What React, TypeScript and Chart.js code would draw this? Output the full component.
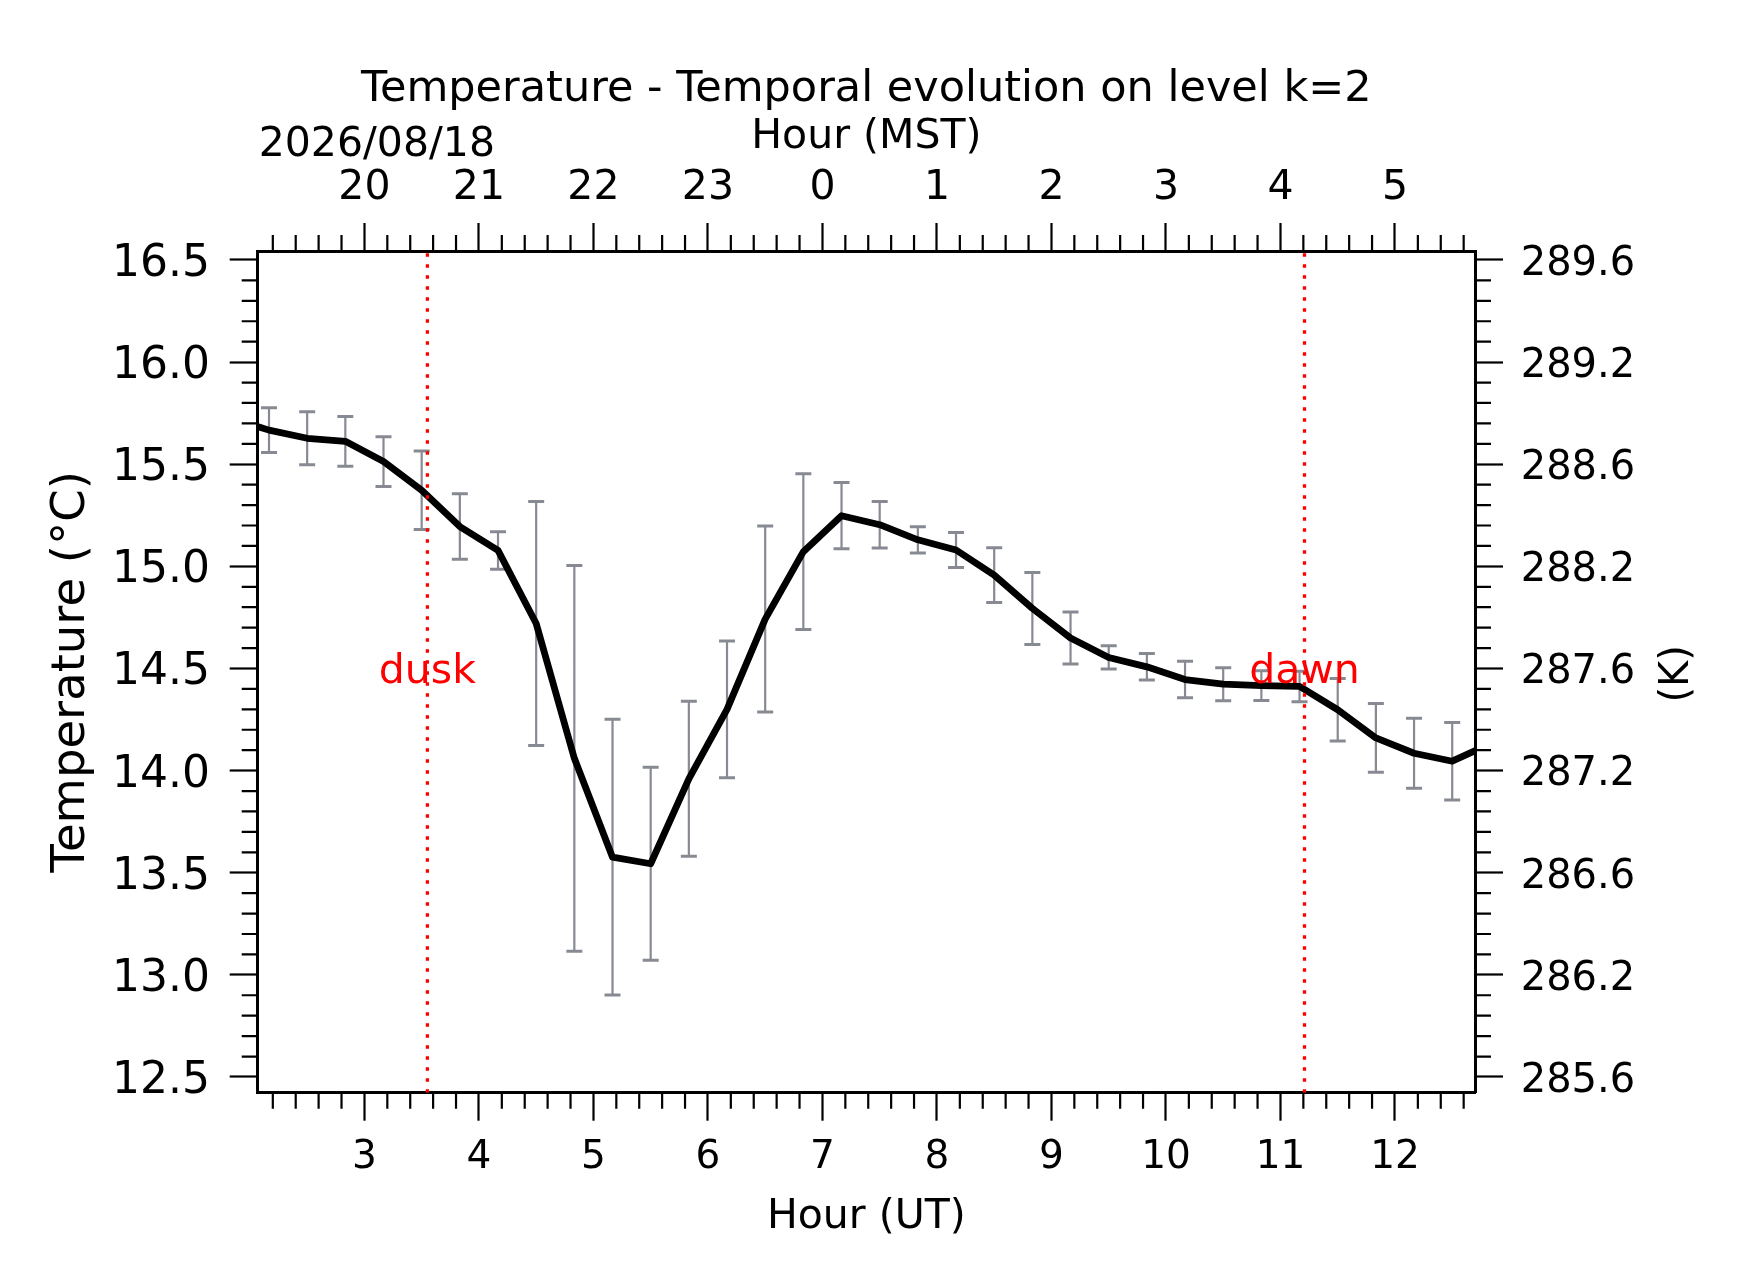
import React, { useEffect, useRef } from 'react';
import { Chart, registerables } from 'chart.js';

Chart.register(...registerables);

// ---------- data ----------
const TIMES_UT = [
  1.8333, 2.1667, 2.5, 2.8333, 3.1667, 3.5, 3.8333, 4.1667, 4.5, 4.8333,
  5.1667, 5.5, 5.8333, 6.1667, 6.5, 6.8333, 7.1667, 7.5, 7.8333, 8.1667,
  8.5, 8.8333, 9.1667, 9.5, 9.8333, 10.1667, 10.5, 10.8333, 11.1667, 11.5,
  11.8333, 12.1667, 12.5, 12.8333,
];
const TEMP_C = [
  15.725, 15.667, 15.627, 15.612, 15.513, 15.373, 15.195, 15.078, 14.72, 14.06,
  13.576, 13.544, 13.96, 14.3, 14.742, 15.072, 15.248, 15.204, 15.13, 15.08,
  14.957, 14.794, 14.649, 14.554, 14.508, 14.446, 14.423, 14.416, 14.412, 14.298,
  14.16, 14.085, 14.046, 14.132,
];
const TEMP_ERR = [
  0.1, 0.11, 0.13, 0.122, 0.122, 0.192, 0.16, 0.092, 0.597, 0.944,
  0.675, 0.472, 0.379, 0.335, 0.455, 0.381, 0.162, 0.114, 0.064, 0.086,
  0.134, 0.176, 0.127, 0.057, 0.065, 0.089, 0.081, 0.073, 0.075, 0.153,
  0.168, 0.171, 0.19, 0.16,
];
const DUSK_UT = 3.55;
const DAWN_UT = 11.21;
const EVENT_LABEL_Y = 14.5;

const UT_TICKS = [3, 4, 5, 6, 7, 8, 9, 10, 11, 12];
const UT_LABELS = ['3', '4', '5', '6', '7', '8', '9', '10', '11', '12'];
const MST_LABELS = ['20', '21', '22', '23', '0', '1', '2', '3', '4', '5'];
const C_TICKS = [12.5, 13.0, 13.5, 14.0, 14.5, 15.0, 15.5, 16.0, 16.5];
const C_LABELS = ['12.5', '13.0', '13.5', '14.0', '14.5', '15.0', '15.5', '16.0', '16.5'];
const K_LABELS = ['285.6', '286.2', '286.6', '287.2', '287.6', '288.2', '288.6', '289.2', '289.6'];

const TITLE = 'Temperature - Temporal evolution on level k=2';
const DATE_LABEL = '2026/08/18';

const XMIN = 2.068;
const XMAX = 12.699;
const YMIN = 12.423;
const YMAX = 16.544;

// ---------- layout ----------
const W = 1742;
const H = 1282;
const PLOT_LEFT = 257.7;
const PLOT_RIGHT = 1475;
const PLOT_TOP = 251;
const PLOT_BOTTOM = 1092.7;
const FONT = "'DejaVu Sans', sans-serif";
const GRAY = '#878a92';

const decorPlugin = {
  id: 'decor',
  afterDatasetsDraw(chart: any) {
    const { ctx } = chart;
    const xs = chart.scales.x;
    const ys = chart.scales.y;
    ctx.save();
    ctx.fillStyle = '#ff0000';
    ctx.font = `41px ${FONT}`;
    ctx.textAlign = 'center';
    ctx.textBaseline = 'alphabetic';
    const yy = ys.getPixelForValue(EVENT_LABEL_Y) + 15;
    ctx.fillText('dusk', xs.getPixelForValue(DUSK_UT), yy);
    ctx.fillText('dawn', xs.getPixelForValue(DAWN_UT), yy);
    ctx.restore();
  },
  afterDraw(chart: any) {
    const { ctx, chartArea: a } = chart;
    const xs = chart.scales.x;
    const ys = chart.scales.y;
    ctx.save();
    // minor ticks
    ctx.strokeStyle = '#000';
    ctx.lineWidth = 2.2;
    const ML = 16;
    ctx.beginPath();
    for (let k = Math.ceil(XMIN * 5); k <= Math.floor(XMAX * 5); k++) {
      if (k % 5 === 0) continue;
      const px = xs.getPixelForValue(k / 5);
      ctx.moveTo(px, a.bottom);
      ctx.lineTo(px, a.bottom + ML);
      ctx.moveTo(px, a.top);
      ctx.lineTo(px, a.top - ML);
    }
    for (let k = Math.ceil(YMIN * 10); k <= Math.floor(YMAX * 10); k++) {
      if (k % 5 === 0) continue;
      const py = ys.getPixelForValue(k / 10);
      ctx.moveTo(a.left, py);
      ctx.lineTo(a.left - ML, py);
      ctx.moveTo(a.right, py);
      ctx.lineTo(a.right + ML, py);
    }
    ctx.stroke();

    // texts
    ctx.fillStyle = '#000';
    ctx.textBaseline = 'alphabetic';
    ctx.font = `43px ${FONT}`;
    ctx.textAlign = 'center';
    ctx.fillText(TITLE, (a.left + a.right) / 2, 101);
    ctx.font = `41px ${FONT}`;
    ctx.textAlign = 'left';
    ctx.fillText(DATE_LABEL, a.left + 1, 155.5);

    ctx.translate(1678, (a.top + a.bottom) / 2 + 2);
    ctx.rotate(-Math.PI / 2);
    ctx.textAlign = 'center';
    ctx.textBaseline = 'middle';
    ctx.font = `40px ${FONT}`;
    ctx.fillText('(K)', 0, 0);
    ctx.restore();
  },
};

export default function App() {
  const ref = useRef<HTMLCanvasElement>(null);

  useEffect(() => {
    const canvas = ref.current;
    if (!canvas) return;
    Chart.defaults.font.family = FONT;

    const mainData = TIMES_UT.map((t, i) => ({ x: t, y: TEMP_C[i] }));
    const errSegs = TIMES_UT.flatMap((t, i) => [
      { x: t, y: TEMP_C[i] - TEMP_ERR[i] },
      { x: t, y: TEMP_C[i] + TEMP_ERR[i] },
      { x: t, y: null as any },
    ]);
    const caps = TIMES_UT.flatMap((t, i) => [
      { x: t, y: TEMP_C[i] - TEMP_ERR[i] },
      { x: t, y: TEMP_C[i] + TEMP_ERR[i] },
    ]);
    const eventLines = [
      { x: DUSK_UT, y: YMIN },
      { x: DUSK_UT, y: YMAX },
      { x: DUSK_UT, y: null as any },
      { x: DAWN_UT, y: YMIN },
      { x: DAWN_UT, y: YMAX },
    ];

    const tickFont = (size: number) => ({ size, family: FONT });
    const gridOpts = {
      display: true,
      drawOnChartArea: false,
      drawTicks: true,
      tickLength: 28,
      tickWidth: 2.2,
      tickColor: '#000',
    };
    const borderOpts = { display: true, width: 3, color: '#000' };

    const chart = new Chart(canvas, {
      type: 'line',
      data: {
        datasets: [
          {
            data: errSegs,
            borderColor: GRAY,
            borderWidth: 2.2,
            pointRadius: 0,
            spanGaps: false,
            order: 3,
          },
          {
            data: caps,
            showLine: false,
            pointStyle: 'line',
            pointRadius: 8,
            pointBorderWidth: 3,
            pointBorderColor: GRAY,
            pointBackgroundColor: GRAY,
            pointHoverRadius: 8,
            order: 3,
          },
          {
            data: mainData,
            borderColor: '#000',
            borderWidth: 6.8,
            pointRadius: 0,
            tension: 0,
            borderJoinStyle: 'round',
            borderCapStyle: 'round',
            order: 2,
          },
          {
            data: eventLines,
            borderColor: '#ff0000',
            borderWidth: 3.3,
            borderDash: [3.5, 7.5],
            pointRadius: 0,
            spanGaps: false,
            order: 1,
          },
        ] as any,
      },
      options: {
        animation: false,
        responsive: false,
        devicePixelRatio: 1,
        events: [],
        layout: { padding: 0 },
        plugins: {
          legend: { display: false },
          tooltip: { enabled: false },
          title: { display: false },
        },
        scales: {
          x: {
            type: 'linear',
            position: 'bottom',
            min: XMIN,
            max: XMAX,
            bounds: 'data',
            afterBuildTicks: (s: any) => {
              s.ticks = UT_TICKS.map((v) => ({ value: v }));
            },
            afterFit: (s: any) => {
              s.height = H - PLOT_BOTTOM;
            },
            ticks: {
              autoSkip: false,
              maxRotation: 0,
              minRotation: 0,
              padding: 13.5,
              color: '#000',
              font: tickFont(39),
              callback: (_v: any, i: number) => UT_LABELS[i],
            },
            grid: gridOpts,
            border: borderOpts,
            title: {
              display: true,
              text: 'Hour (UT)',
              color: '#000',
              font: tickFont(41),
              padding: { top: 0, bottom: 39.6 },
            },
          },
          xTop: {
            type: 'linear',
            position: 'top',
            min: XMIN,
            max: XMAX,
            bounds: 'data',
            afterBuildTicks: (s: any) => {
              s.ticks = UT_TICKS.map((v) => ({ value: v }));
            },
            afterFit: (s: any) => {
              s.height = PLOT_TOP;
            },
            ticks: {
              autoSkip: false,
              maxRotation: 0,
              minRotation: 0,
              padding: 10.4,
              color: '#000',
              font: tickFont(41),
              callback: (_v: any, i: number) => MST_LABELS[i],
            },
            grid: gridOpts,
            border: borderOpts,
            title: {
              display: true,
              text: 'Hour (MST)',
              color: '#000',
              font: tickFont(41),
              padding: { top: 113.2, bottom: 0 },
            },
          },
          y: {
            type: 'linear',
            position: 'left',
            min: YMIN,
            max: YMAX,
            bounds: 'data',
            afterBuildTicks: (s: any) => {
              s.ticks = C_TICKS.map((v) => ({ value: v }));
            },
            afterFit: (s: any) => {
              s.width = PLOT_LEFT;
            },
            ticks: {
              autoSkip: false,
              padding: 19.7,
              labelOffset: 4.5,
              color: '#000',
              font: tickFont(44),
              callback: (_v: any, i: number) => C_LABELS[i],
            },
            grid: gridOpts,
            border: borderOpts,
            title: {
              display: true,
              text: 'Temperature (°C)',
              color: '#000',
              font: tickFont(46.5),
              padding: { top: 44, bottom: 0 },
            },
          },
          yRight: {
            type: 'linear',
            position: 'right',
            min: YMIN,
            max: YMAX,
            bounds: 'data',
            afterBuildTicks: (s: any) => {
              s.ticks = C_TICKS.map((v) => ({ value: v }));
            },
            afterFit: (s: any) => {
              s.width = W - PLOT_RIGHT;
            },
            ticks: {
              autoSkip: false,
              padding: 17.7,
              labelOffset: 4.5,
              color: '#000',
              font: tickFont(40),
              callback: (_v: any, i: number) => K_LABELS[i],
            },
            grid: gridOpts,
            border: borderOpts,
          },
        } as any,
      },
      plugins: [decorPlugin],
    });

    return () => {
      chart.destroy();
    };
  }, []);

  return (
    <div style={{ position: 'absolute', left: 0, top: 0, width: W, height: H, background: '#fff' }}>
      <canvas ref={ref} width={W} height={H} style={{ display: 'block', width: W, height: H }} />
    </div>
  );
}
